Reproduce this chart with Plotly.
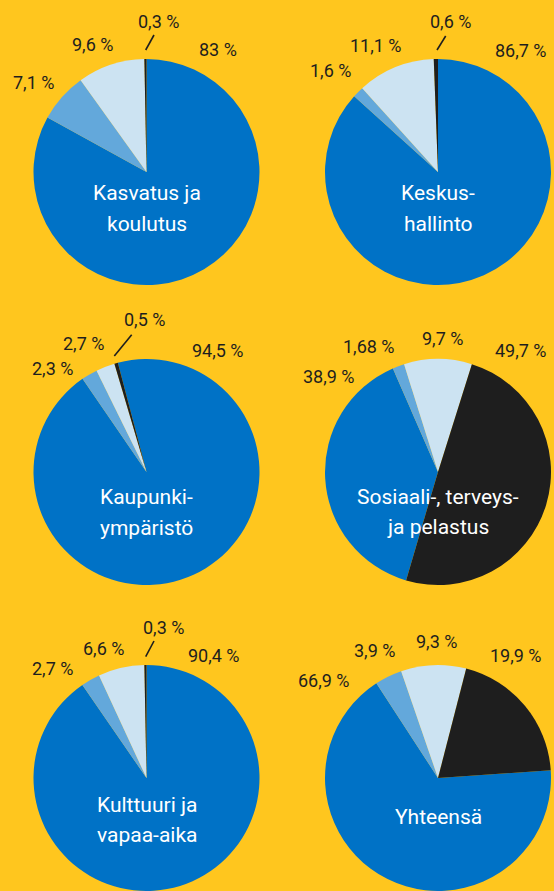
import plotly.graph_objects as go

# ---------------- data ----------------
slice_names = ["Osuus 1", "Osuus 2", "Osuus 3", "Osuus 4"]
panels = ["Kasvatus ja<br>koulutus", "Keskus-<br>hallinto", "Kaupunki-<br>ympäristö",
          "Sosiaali-, terveys-<br>ja pelastus", "Kulttuuri ja<br>vapaa-aika", "Yhteensä"]
values_kasvatus = [83, 7.1, 9.6, 0.3]
values_keskus = [86.7, 1.6, 11.1, 0.6]
values_kaupunki = [94.5, 2.3, 2.7, 0.5]
values_sote = [38.9, 1.68, 9.7, 49.7]
values_kulttuuri = [90.4, 2.7, 6.6, 0.3]
values_yhteensa = [66.9, 3.9, 9.3, 19.9]
all_values = [values_kasvatus, values_keskus, values_kaupunki,
              values_sote, values_kulttuuri, values_yhteensa]

# ---------------- style / layout ----------------
W, H = 554, 891
BG = "#FFC61E"
COLORS = ["#0072C6", "#63A8DB", "#CCE3F2", "#1E1E1E"]
TEXT_DARK = "#1E1E1E"
R = 113
CENTERS = [(146.5, 172), (438, 172), (146.5, 472), (438, 472), (146.5, 778), (438, 778)]
ROTATIONS = [0, 0, -14.7, 196.4, 0, 86.1]
# label positions (px) for each slice of each panel
LABEL_POS = [
    [(218, 50), (33, 82), (92, 44), (158, 21)],
    [(521, 51), (330, 71), (376, 46), (450, 21)],
    [(218, 350), (52, 368), (83, 343), (144, 320)],
    [(329, 376), (369, 346), (442, 339), (521, 350)],
    [(214, 655), (52, 668), (103, 648), (163, 627)],
    [(324, 680), (374, 650), (436, 641), (516, 655)],
]
# connector lines for tiny slices (px): panel index -> (x0, y0, x1, y1)
CONNECTORS = {0: (145.7, 50, 154, 35), 1: (437, 50, 445.7, 36),
              2: (114.3, 356, 131.7, 334.7), 4: (145.7, 656.7, 154, 641)}
CENTER_LABEL_Y = [208.5, 208.5, 512.5, 512, 820, 817]
LINE_GAP = 30.5

def px_x(x):
    return x / W

def px_y(y):
    return 1 - y / H

def fmt(v):
    return f"{v:g}".replace(".", ",") + " %"

fig = go.Figure()
annotations = []
shapes = []
for i, (name, vals) in enumerate(zip(panels, all_values)):
    cx, cy = CENTERS[i]
    fig.add_trace(go.Pie(
        labels=slice_names, values=vals, sort=False, direction="clockwise",
        rotation=ROTATIONS[i], textinfo="none", hoverinfo="label+value",
        marker=dict(colors=COLORS, line=dict(width=0)),
        domain=dict(x=[px_x(cx - R), px_x(cx + R)],
                    y=[max(0, px_y(cy + R)), min(1, px_y(cy - R))]),
        showlegend=False, name=name.replace("<br>", " "),
    ))
    for j, v in enumerate(vals):
        lx, ly = LABEL_POS[i][j]
        annotations.append(dict(
            x=px_x(lx), y=px_y(ly), xref="paper", yref="paper",
            text=fmt(v), showarrow=False, xanchor="center", yanchor="middle",
            font=dict(family="Roboto", size=18, color=TEXT_DARK)))
    lines = name.split("<br>")
    n = len(lines)
    for k, line in enumerate(lines):
        y = CENTER_LABEL_Y[i] + (k - (n - 1) / 2) * LINE_GAP
        annotations.append(dict(
            x=px_x(cx), y=px_y(y), xref="paper", yref="paper",
            text=line, showarrow=False, xanchor="center", yanchor="middle",
            font=dict(family="Roboto", size=21, color="white")))
    if i in CONNECTORS:
        x0, y0, x1, y1 = CONNECTORS[i]
        shapes.append(dict(type="line", xref="paper", yref="paper",
                           x0=px_x(x0), y0=px_y(y0), x1=px_x(x1), y1=px_y(y1),
                           line=dict(color=TEXT_DARK, width=1.6)))

fig.update_layout(
    width=W, height=H, margin=dict(l=0, r=0, t=0, b=0),
    paper_bgcolor=BG, plot_bgcolor=BG,
    annotations=annotations, shapes=shapes,
)
fig.write_html(
    "out.html",
    config={"displayModeBar": False},
    post_script="document.body.style.margin='0';document.body.style.background='%s';"
                "document.documentElement.style.overflow='hidden';" % BG,
)
